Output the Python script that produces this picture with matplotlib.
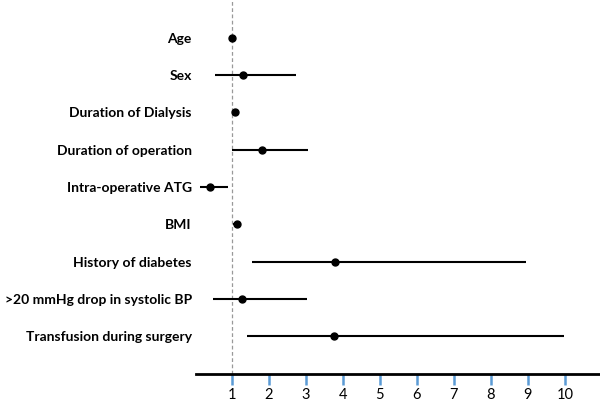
import matplotlib.pyplot as plt

labels = ["Age", "Sex", "Duration of Dialysis", "Duration of operation",
          "Intra-operative ATG", "BMI", "History of diabetes",
          ">20 mmHg drop in systolic BP", "Transfusion during surgery"]
odds = [1.00, 1.30, 1.08, 1.81, 0.41, 1.14, 3.78, 1.27, 3.76]
lower = [0.99, 0.54, 1.05, 1.00, 0.14, 1.03, 1.54, 0.49, 1.41]
upper = [1.01, 2.73, 1.11, 3.05, 0.89, 1.24, 8.95, 3.03, 9.97]
ticks = [1, 2, 3, 4, 5, 6, 7, 8, 9, 10]

plt.rcParams['font.family'] = ['Lato', 'DejaVu Sans']

fig = plt.figure(figsize=(6, 4.03), dpi=100)
ax = fig.add_axes([196 / 600, 1 - 374 / 403, 1 - 196 / 600, 374 / 403])

rows = list(range(len(labels)))
# reference line at 1
ax.axvline(1, color='#999999', linestyle=(0, (3, 2)), linewidth=0.9, zorder=1)
ax.hlines(rows, lower, upper, color='black', linewidth=1.5, zorder=2)
ax.plot(odds, rows, 'o', color='black', markersize=5, zorder=3)

ax.set_xlim(0.027, 10.95)
ax.set_ylim(9.02, -1.02)

ax.set_yticks(rows)
ax.set_yticklabels(labels, fontweight='bold', fontsize=10)
ax.tick_params(axis='y', length=0, pad=3)

ax.set_xticks(ticks)
ax.set_xticklabels([str(t) for t in ticks], fontsize=10.5)
ax.tick_params(axis='x', direction='out', length=8, width=1.8, color='#5b9bd5', pad=2)

for s in ['top', 'right', 'left']:
    ax.spines[s].set_visible(False)
ax.spines['bottom'].set_linewidth(2)

fig.savefig('out.png', dpi=100)
